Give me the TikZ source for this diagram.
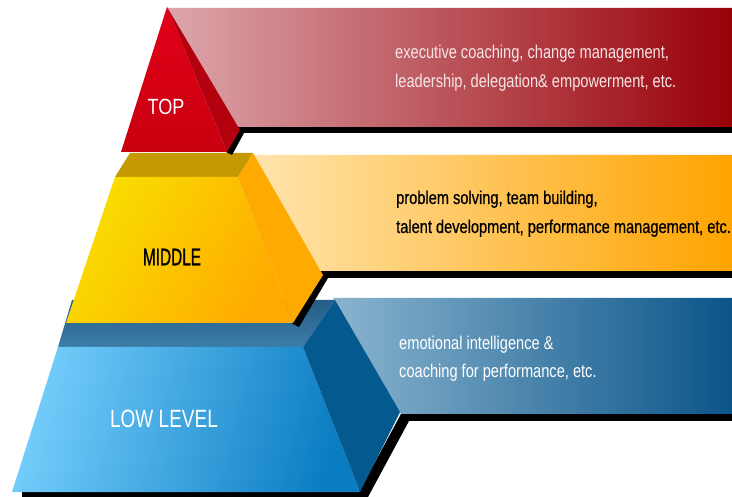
\documentclass[tikz,border=0pt]{standalone}
\usepackage{fontspec}
\newfontfamily\bandfont[FakeStretch=0.79]{Liberation Sans}
\newfontfamily\bandfontdark[FakeStretch=0.79,FakeBold=0.6]{Liberation Sans}
\newfontfamily\topfont[FakeStretch=0.82]{Liberation Sans}
\newfontfamily\midfont[FakeStretch=0.64,FakeBold=0.8]{Liberation Sans}
\newfontfamily\lowfont[FakeStretch=0.76]{Liberation Sans}

% top tier
\definecolor{topbandL}{HTML}{DCA6AB}
\definecolor{topbandM}{HTML}{AE343D}
\definecolor{topbandR}{HTML}{990008}
\definecolor{topfrontA}{HTML}{E2001A}
\definecolor{topfrontB}{HTML}{C9000F}
\definecolor{topside}{HTML}{B3000F}
\definecolor{toptext}{HTML}{F6E6E6}
% middle tier
\definecolor{midbandL}{HTML}{FFE4AE}
\definecolor{midbandM}{HTML}{FFC24C}
\definecolor{midbandR}{HTML}{FFA400}
\definecolor{midtop}{HTML}{C49A00}
\definecolor{midfrontA}{HTML}{F9DE00}
\definecolor{midfrontB}{HTML}{FFAA00}
\definecolor{midside}{HTML}{FFAA00}
% low tier
\definecolor{lowbandL}{HTML}{8AB4CF}
\definecolor{lowbandM}{HTML}{3A78A4}
\definecolor{lowbandR}{HTML}{0B5589}
\definecolor{lowtopA}{HTML}{245D87}
\definecolor{lowtopB}{HTML}{3C7DA8}
\definecolor{lowfrontA}{HTML}{74CDFB}
\definecolor{lowfrontB}{HTML}{0A7CC2}
\definecolor{lowside}{HTML}{045A8E}

\begin{document}
\begin{tikzpicture}[x=1pt,y=-1pt,
  bandtext/.style={anchor=base west,inner sep=0pt,
    font=\bandfont\fontsize{18.5}{22}\selectfont},
  bandtextdark/.style={anchor=base west,inner sep=0pt,
    font=\bandfontdark\fontsize{18.5}{22}\selectfont},
  tierlabel/.style={anchor=center,inner sep=0pt},
  dropshadow/.style={fill=black}]
\useasboundingbox (0,0) rectangle (732,497);
\fill[white] (0,0) rectangle (732,497);

% ---------- low level ----------
\fill[dropshadow] (401,414) -- (732,414) -- (732,421) -- (409,421) -- (368,497)
  -- (22,497) -- (22,490) -- (360,490) -- cycle;
\shade[left color=lowbandL,middle color=lowbandM,right color=lowbandR]
  (333,298) -- (732,298) -- (732,414) -- (401,414) -- cycle;
\shade[top color=lowtopA,bottom color=lowtopB]
  (72,300) -- (335,300) -- (303,347) -- (58,347) -- cycle;
\shade[top color=lowfrontA,bottom color=lowfrontB,shading angle=75]
  (58,347) -- (303,347) -- (360,492) -- (12,492) -- cycle;
\fill[lowside] (303,347) -- (335,300) -- (400,412) -- (360,492) -- cycle;

% ---------- middle ----------
\fill[dropshadow] (321,271) -- (732,271) -- (732,278) -- (328,278) -- (299,327)
  -- (291,323) -- cycle;
\shade[left color=midbandL,middle color=midbandM,right color=midbandR]
  (253,155) -- (732,155) -- (732,271) -- (321,271) -- cycle;
\fill[midtop] (130,153) -- (253,153) -- (238,177) -- (115,177) -- cycle;
\shade[top color=midfrontA,bottom color=midfrontB,shading angle=60]
  (115,177) -- (238,177) -- (293,323) -- (66,323) -- cycle;
\fill[midside] (238,177) -- (253,153) -- (323,275) -- (293,323) -- cycle;

% ---------- top ----------
\fill[dropshadow] (238,127) -- (732,127) -- (732,133) -- (244,133) -- (232,155)
  -- (226,152) -- cycle;
\shade[left color=topbandL,middle color=topbandM,right color=topbandR]
  (167,8) -- (732,8) -- (732,127) -- (238,127) -- cycle;
\shade[top color=topfrontA,bottom color=topfrontB]
  (167,7) -- (121,152) -- (227,152) -- cycle;
\fill[topside] (167,7) -- (240,130) -- (227,152) -- cycle;

% ---------- tier labels ----------
\node[tierlabel,text=white,font=\topfont\fontsize{22}{26}\selectfont]
  (lblTop) at (166,107) {TOP};
\node[tierlabel,text=black,font=\midfont\fontsize{24}{28}\selectfont]
  (lblMid) at (172,257) {MIDDLE};
\node[tierlabel,text=white,font=\lowfont\fontsize{25}{29}\selectfont]
  (lblLow) at (164,419) {LOW LEVEL};

% ---------- band texts ----------
\node[bandtext,text=toptext] (t1) at (395,59) {executive coaching, change management,};
\node[bandtext,text=toptext] (t2) at (395,88) {leadership, delegation\& empowerment, etc.};
\node[bandtextdark,text=black] (m1) at (396,204) {problem solving, team building,};
\node[bandtextdark,text=black] (m2) at (396,233) {talent development, performance management, etc.};
\node[bandtext,text=white] (l1) at (399,350) {emotional intelligence \&};
\node[bandtext,text=white] (l2) at (399,378) {coaching for performance, etc.};
\end{tikzpicture}
\end{document}
